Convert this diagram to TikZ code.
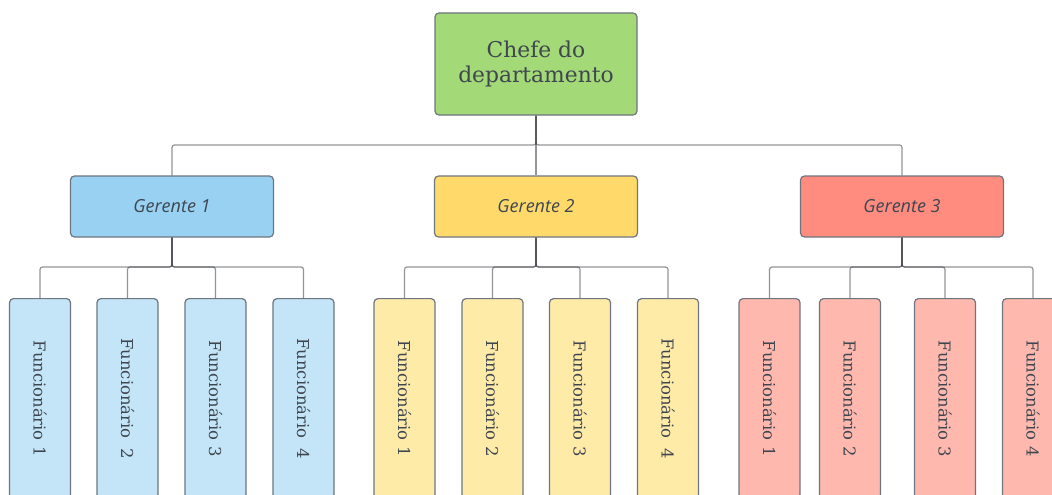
\documentclass[tikz,border=0pt]{standalone}
\usepackage{fontspec}
\usepackage{graphicx}
\setmainfont{DejaVu Serif}
\newfontfamily\gerfont{Open Sans}
\usepackage{tikz}

\definecolor{boxline}{HTML}{6E7581}
\definecolor{txt}{HTML}{3F4650}
\definecolor{linecol}{HTML}{262A30}
\definecolor{chefefill}{HTML}{A3D977}
\definecolor{blueger}{HTML}{99D1F3}
\definecolor{bluefunc}{HTML}{C3E5F7}
\definecolor{yellowger}{HTML}{FFDA6B}
\definecolor{yellowfunc}{HTML}{FFEBA8}
\definecolor{redger}{HTML}{FF8C7E}
\definecolor{redfunc}{HTML}{FFB8AE}

\begin{document}
\begin{tikzpicture}[x=1pt, y=-1pt,
  box/.style={draw=boxline, line width=1.2pt, rounded corners=4pt, text=txt, inner sep=0pt},
  chefe/.style={box, fill=chefefill, minimum width=202pt, minimum height=102pt, align=center,
    font=\fontsize{21.8}{25}\selectfont},
  gerente/.style={box, minimum width=203pt, minimum height=61pt,
    font=\gerfont\itshape\fontsize{18}{21}\selectfont},
  func/.style={box, minimum width=61pt, minimum height=200pt, anchor=north,
    font=\fontsize{16.4}{19}\selectfont},
  link/.style={draw=linecol, line width=1.2pt, draw opacity=0.5, rounded corners=2.5pt}]
\useasboundingbox (0,0) rectangle (1052,495);
\clip (0,0) rectangle (1052,495);

\node [chefe] (chefe) at (536,64) {Chefe do\\departamento};

\node [gerente, fill=blueger] (ger1) at (172,206.5) {Gerente 1};
\node [gerente, fill=yellowger] (ger2) at (536,206.5) {Gerente 2};
\node [gerente, fill=redger] (ger3) at (902,206.5) {Gerente 3};

\node [func, fill=bluefunc] (f11) at (40,298) {\rotatebox{-90}{Funcionário 1}};
\node [func, fill=bluefunc] (f12) at (127.5,298) {\rotatebox{-90}{Funcionário\hspace{0.6em}2}};
\node [func, fill=bluefunc] (f13) at (215.5,298) {\rotatebox{-90}{Funcionário 3}};
\node [func, fill=bluefunc] (f14) at (303.5,298) {\rotatebox{-90}{Funcionário\hspace{0.6em}4}};

\node [func, fill=yellowfunc] (f21) at (404.5,298) {\rotatebox{-90}{Funcionário 1}};
\node [func, fill=yellowfunc] (f22) at (492.5,298) {\rotatebox{-90}{Funcionário 2}};
\node [func, fill=yellowfunc] (f23) at (580,298) {\rotatebox{-90}{Funcionário 3}};
\node [func, fill=yellowfunc] (f24) at (668,298) {\rotatebox{-90}{Funcionário\hspace{0.6em}4}};

\node [func, fill=redfunc] (f31) at (769.5,298) {\rotatebox{-90}{Funcionário 1}};
\node [func, fill=redfunc] (f32) at (850,298) {\rotatebox{-90}{Funcionário 2}};
\node [func, fill=redfunc] (f33) at (945,298) {\rotatebox{-90}{Funcionário 3}};
\node [func, fill=redfunc] (f34) at (1033,298) {\rotatebox{-90}{Funcionário 4}};

% bus levels
\coordinate (bus0) at (536,145);
\coordinate (bus1) at (172,267);
\coordinate (bus2) at (536,267);
\coordinate (bus3) at (902,267);

\draw [link] (chefe.south) -- (bus0) -| (ger1.north);
\draw [link] (chefe.south) -- (ger2.north);
\draw [link] (chefe.south) -- (bus0) -| (ger3.north);

\draw [link] (ger1.south) -- (bus1) -| (f11.north);
\draw [link] (ger1.south) -- (bus1) -| (f12.north);
\draw [link] (ger1.south) -- (bus1) -| (f13.north);
\draw [link] (ger1.south) -- (bus1) -| (f14.north);

\draw [link] (ger2.south) -- (bus2) -| (f21.north);
\draw [link] (ger2.south) -- (bus2) -| (f22.north);
\draw [link] (ger2.south) -- (bus2) -| (f23.north);
\draw [link] (ger2.south) -- (bus2) -| (f24.north);

\draw [link] (ger3.south) -- (bus3) -| (f31.north);
\draw [link] (ger3.south) -- (bus3) -| (f32.north);
\draw [link] (ger3.south) -- (bus3) -| (f33.north);
\draw [link] (ger3.south) -- (bus3) -| (f34.north);
\end{tikzpicture}
\end{document}
